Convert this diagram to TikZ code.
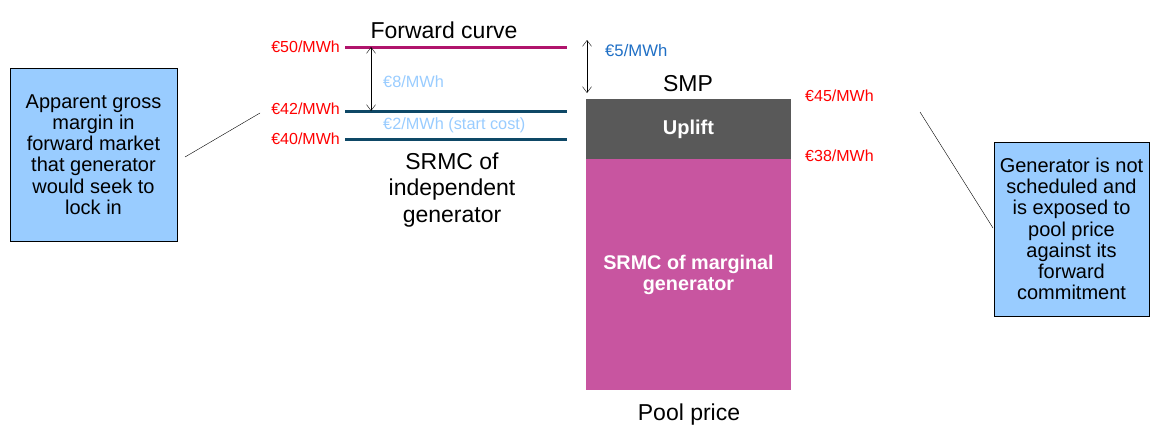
\documentclass[tikz,border=0pt]{standalone}
\usepackage{fontspec}
\setmainfont{Liberation Sans}
\usetikzlibrary{positioning,arrows.meta}
\definecolor{fwdcol}{HTML}{B0146C}
\definecolor{srmccol}{HTML}{0E4866}
\definecolor{priceol}{HTML}{FF0000}
\definecolor{paleblue}{HTML}{99CCFF}
\definecolor{midblue}{HTML}{1F6FC5}
\definecolor{upliftcol}{HTML}{595959}
\definecolor{margcol}{HTML}{C855A0}
\tikzset{
  price/.style={text=priceol,font=\fontsize{16}{18}\selectfont,inner sep=1pt},
  gap/.style={text=paleblue,font=\fontsize{16.3}{18}\selectfont,inner sep=1pt,anchor=west},
  big/.style={font=\fontsize{23}{26.5}\selectfont,align=center,inner sep=1pt},
  callout/.style={draw=black,fill=paleblue,font=\fontsize{20}{21.2}\selectfont,align=center},
  level/.style={line width=3pt},
  span/.style={{Straight Barb[length=6pt,width=9pt]}-{Straight Barb[length=6pt,width=9pt]},thin}
}
\begin{document}
\begin{tikzpicture}[x=1pt,y=-1pt]
\useasboundingbox (0,0) rectangle (1150,426);
\coordinate (FA) at (345,47);
\coordinate (FB) at (567,47);
\coordinate (SA) at (345,111);
\coordinate (SB) at (567,111);
\coordinate (TA) at (345,139);
\coordinate (TB) at (567,139);
\draw[level,fwdcol] (FA)--(FB);
\draw[level,srmccol] (SA)--(SB);
\draw[level,srmccol] (TA)--(TB);
\node[price,anchor=east] (p50) at (341,47) {€50/MWh};
\node[price,anchor=east] (p42) at (341,109) {€42/MWh};
\node[price,anchor=east] (p40) at (341,139) {€40/MWh};
\node[big] (fwd) at (444,30) {Forward curve};
\node[big] (indep) at (452,190) {SRMC of\\independent\\generator};
\coordinate (G1) at (371,47);
\coordinate (G2) at (371,111);
\draw[span] (G1)--(G2);
\node[gap] (g8) at (382,82) {€8/MWh};
\node[gap] (g2) at (382,125) {€2/MWh (start cost)};
%% pool side
\node[draw=none,fill=upliftcol,minimum width=205pt,minimum height=60pt,inner sep=0pt,
  text=white,font=\bfseries\fontsize{20}{22}\selectfont] (uplift) at (688.5,129) {Uplift};
\node[draw=none,fill=margcol,minimum width=205pt,minimum height=231pt,inner sep=0pt,
  text=white,font=\bfseries\fontsize{19.8}{20.5}\selectfont,align=center,
  below=0pt of uplift] (marg) {SRMC of marginal\\generator};
\coordinate (H1) at (587,40);
\coordinate (H2) at (587,93);
\draw[span] (H1)--(H2);
\node[text=midblue,font=\fontsize{16.7}{18}\selectfont,anchor=west,inner sep=1pt] (g5) at (604,51) {€5/MWh};
\node[big] (smp) at (688,84) {SMP};
\node[big] (pool) at (689,415) {Pool price};
\node[price,anchor=west] (p45) at (804,96) {€45/MWh};
\node[price,anchor=west] (p38) at (804,156) {€38/MWh};
%% callouts
\node[callout,minimum width=167pt,minimum height=173pt,inner sep=0pt] (lbox) at (93.5,154.5)
  {Apparent gross\\margin in\\forward market\\that generator\\would seek to\\lock in};
\node[callout,minimum width=155pt,minimum height=174pt,inner sep=0pt] (rbox) at (1071.5,229)
  {Generator is not\\scheduled and\\is exposed to\\pool price\\against its\\forward\\commitment};
\coordinate (L1) at (185,157);
\coordinate (L2) at (260,113);
\draw (L1)--(L2);
\coordinate (R1) at (920,112);
\coordinate (R2) at (993,228);
\draw (R1)--(R2);
\end{tikzpicture}
\end{document}
